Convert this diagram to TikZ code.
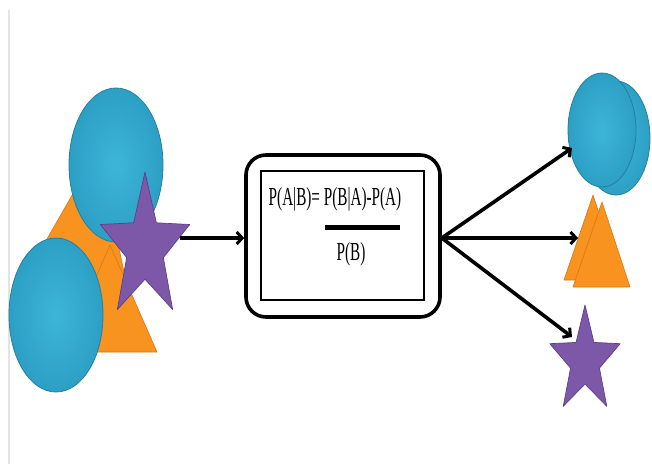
\documentclass[tikz,border=0pt]{standalone}
\usepackage{fontspec}
\setmainfont{Liberation Serif}
\usetikzlibrary{arrows.meta}

\definecolor{cyanlight}{HTML}{3CB6D8}
\definecolor{cyandark}{HTML}{2D9FC5}
\definecolor{cyanedge}{HTML}{24809E}
\definecolor{orangefill}{HTML}{F7931E}
\definecolor{orangeedge}{HTML}{D8771A}
\definecolor{purplefill}{HTML}{7E58A8}
\definecolor{purpleedge}{HTML}{5C3F86}
\definecolor{railgray}{HTML}{E4E4E4}

\tikzset{
  bluedisc/.style={draw=cyanedge, line width=0.8pt, inner color=cyanlight, outer color=cyandark},
  ambertri/.style={fill=orangefill, draw=orangeedge, line width=0.6pt, line join=round},
  violetstar/.style={fill=purplefill, draw=purpleedge, line width=0.7pt, line join=round},
  flowarrow/.style={line width=3.6pt, -{Straight Barb[length=5.5pt, width=12pt, line width=3pt]}},
  formula/.style={inner sep=0pt, font=\fontsize{26}{28}\selectfont},
  % five-pointed star of unit radius, stretched by the scope's x and y vectors
  pics/pentastar/.style={code={
    \path[violetstar] (90:1) -- (126:0.41) -- (162:1) -- (198:0.41) -- (234:1)
      -- (270:0.41) -- (306:1) -- (342:0.41) -- (18:1) -- (54:0.41) -- cycle;
  }}
}

\begin{document}
\begin{tikzpicture}[x=1pt, y=-1pt]
\useasboundingbox (0,0) rectangle (652,464);
\fill[white] (0,0) rectangle (652,464);

% thin rule along the left margin
\coordinate (railtop) at (8.5,10);
\coordinate (railbot) at (8.5,464);
\draw[railgray, line width=2pt] (railtop) -- (railbot);

% ---- input group ----
\path[ambertri] (98,150) -- (130,300) -- (12,300) -- cycle;
\path[bluedisc] (116,165) ellipse [x radius=47, y radius=77];
\path[ambertri] (110,245) -- (157,352) -- (63,352) -- cycle;
\path[bluedisc] (56,315) ellipse [x radius=47, y radius=77];
\begin{scope}[shift={(145,248)}, x=47pt, y=76pt]
  \pic {pentastar};
\end{scope}
\coordinate (srcstar) at (180,238);

% ---- Bayes box ----
\node[draw, line width=3.6pt, rounded corners=20pt,
      minimum width=194pt, minimum height=162pt] (box) at (343,236) {};
\node[draw, line width=1.2pt, minimum width=163pt, minimum height=129pt] (inner) at (342.5,235.5) {};
\node[formula] (num) at (335,199) {\scalebox{0.585}[1]{P(A|B)= P(B|A)-P(A)}};
\coordinate (barl) at (325,227);
\coordinate (barr) at (400,227);
\draw[line width=5pt] (barl) -- (barr);
\node[formula] (den) at (351,254) {\scalebox{0.585}[1]{P(B)}};

% ---- output group ----
\path[bluedisc] (616,138) ellipse [x radius=34, y radius=57];
\path[bluedisc] (602,130) ellipse [x radius=34, y radius=57];
\path[ambertri] (593,195) -- (621,280) -- (564,280) -- cycle;
\path[ambertri] (602,202) -- (630,287) -- (573,287) -- cycle;
\begin{scope}[shift={(585,361)}, x=37pt, y=56pt]
  \pic {pentastar};
\end{scope}
\coordinate (outdisc) at (572,148);
\coordinate (outtri) at (578,238);
\coordinate (outstar) at (572,337);

% ---- connectors ----
\draw[flowarrow] (srcstar) -- (box.west |- srcstar);
\coordinate (fork) at (box.east |- outtri);
\draw[flowarrow] (fork) -- (outdisc);
\draw[flowarrow] (fork) -- (outtri);
\draw[flowarrow] (fork) -- (outstar);
\end{tikzpicture}
\end{document}
